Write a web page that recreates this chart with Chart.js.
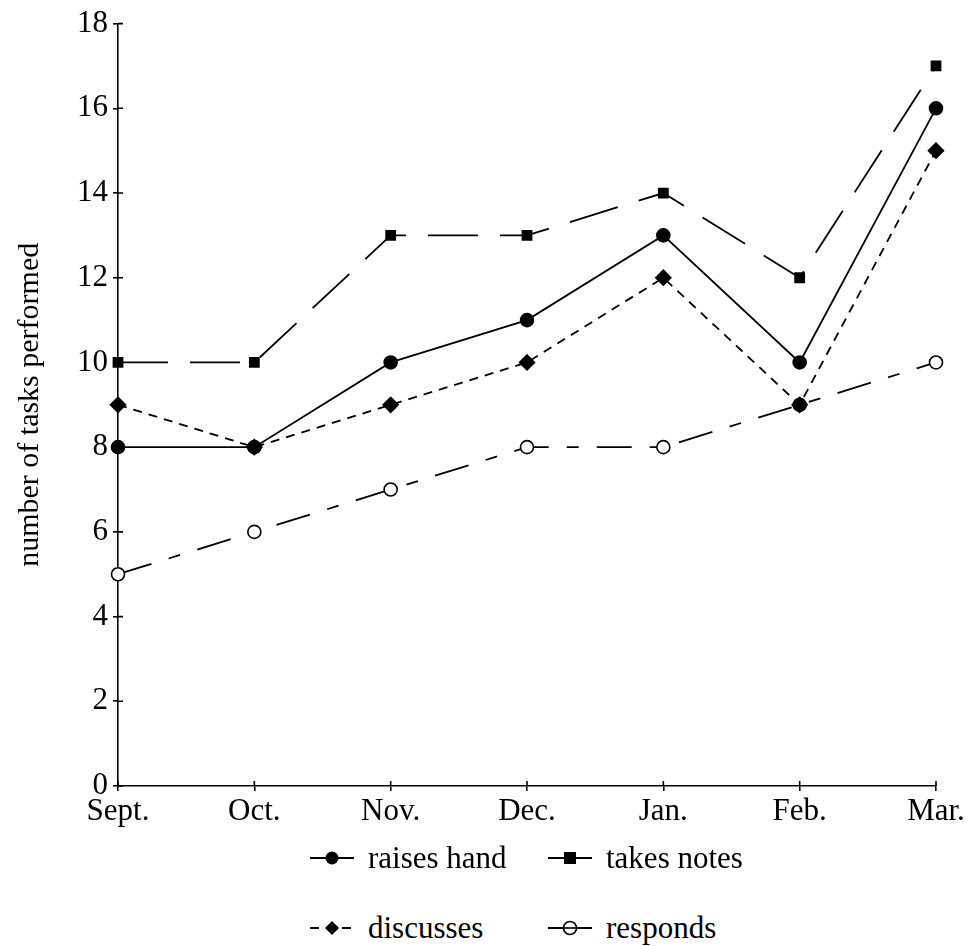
<!DOCTYPE html>
<html>
<head>
<meta charset="utf-8">
<script src="https://cdn.jsdelivr.net/npm/chart.js@4/dist/chart.umd.min.js"></script>
<style>
  body { margin: 0; background: #fff; }
  #wrap { position: relative; width: 970px; height: 946px; }
  #chart { position: absolute; left: 0; top: 0; }
  .leg { position: absolute; font: 31px "Liberation Serif", "Times New Roman", serif; color: #000;
         display: flex; align-items: center; height: 40px; line-height: 40px; }
  .leg svg { margin-right: 10px; }
</style>
</head>
<body>
<div id="wrap">
  <canvas id="chart" width="970" height="846"></canvas>
  <div class="leg" style="left:308px; top:838px;"><svg width="50" height="20"><line x1="2" y1="10" x2="46" y2="10" stroke="#000" stroke-width="1.8"/><circle cx="24" cy="10" r="6.5" fill="#000"/></svg>raises hand</div>
  <div class="leg" style="left:546px; top:838px;"><svg width="50" height="20"><line x1="2" y1="10" x2="46" y2="10" stroke="#000" stroke-width="1.8"/><rect x="18" y="4" width="12" height="12" fill="#000"/></svg>takes notes</div>
  <div class="leg" style="left:308px; top:908px;"><svg width="50" height="20"><line x1="2" y1="10" x2="46" y2="10" stroke="#000" stroke-width="1.8" stroke-dasharray="9 7"/><polygon points="24,3 31,10 24,17 17,10" fill="#000"/></svg>discusses</div>
  <div class="leg" style="left:546px; top:908px;"><svg width="50" height="20"><line x1="2" y1="10" x2="46" y2="10" stroke="#000" stroke-width="1.8"/><circle cx="24" cy="10" r="6.5" fill="#fff" stroke="#000" stroke-width="1.6"/><line x1="17" y1="10" x2="31" y2="10" stroke="#000" stroke-width="1.6"/></svg>responds</div>
</div>
<script>
// months on the x axis and the four behaviours tracked
const months = ["Sept.", "Oct.", "Nov.", "Dec.", "Jan.", "Feb.", "Mar."];
const raisesHand = [8, 8, 10, 11, 13, 10, 16];
const takesNotes = [10, 10, 13, 13, 14, 12, 17];
const discusses = [9, 8, 9, 10, 12, 9, 15];
const responds = [5, 6, 7, 8, 8, 9, 10];
const yTicks = [0, 2, 4, 6, 8, 10, 12, 14, 16, 18];

const FONT = { family: '"Liberation Serif", "Times New Roman", serif', size: 31 };

// draw the inner half of the tick marks so they cross the axis line
const crossTicks = {
  id: "crossTicks",
  afterDraw(chart) {
    const ctx = chart.ctx;
    const x = chart.scales.x, y = chart.scales.y;
    ctx.save();
    ctx.strokeStyle = "#000";
    ctx.lineWidth = 1.6;
    ctx.beginPath();
    yTicks.forEach(v => {
      const py = y.getPixelForValue(v);
      ctx.moveTo(x.left, py); ctx.lineTo(x.left + 5, py);
    });
    months.forEach((m, i) => {
      const px = x.getPixelForValue(i);
      ctx.moveTo(px, y.bottom); ctx.lineTo(px, y.bottom - 5);
    });
    ctx.stroke();
    ctx.restore();
  }
};

function series(label, data, dash, style, radius, fill) {
  return {
    label, data,
    borderColor: "#000", borderWidth: 1.8, borderDash: dash,
    pointStyle: style, pointRadius: radius,
    pointBackgroundColor: fill, pointBorderColor: "#000", pointBorderWidth: 1.6,
    tension: 0, fill: false
  };
}

new Chart(document.getElementById("chart"), {
  type: "line",
  data: {
    labels: months,
    datasets: [
      series("raises hand", raisesHand, [], "circle", 6.5, "#000"),
      series("takes notes", takesNotes, [50, 22], "rect", 6.5, "#000"),
      series("discusses", discusses, [9, 7], "rectRot", 7.5, "#000"),
      series("responds", responds, [35, 18, 12, 18], "circle", 6.5, "#fff")
    ]
  },
  options: {
    responsive: false,
    animation: false,
    layout: { padding: { top: 22, right: 34, left: 0, bottom: 0 } },
    plugins: { legend: { display: false }, tooltip: { enabled: false } },
    scales: {
      x: {
        offset: false,
        grid: { display: true, drawOnChartArea: false, tickLength: 5, color: "#000", lineWidth: 1.6 },
        border: { display: true, color: "#000", width: 1.6 },
        ticks: { color: "#000", font: FONT, padding: 2, maxRotation: 0, autoSkip: false },
        afterFit(s) { s.height = 60; }
      },
      y: {
        min: 0, max: 18,
        afterBuildTicks(s) { s.ticks = yTicks.map(v => ({ value: v })); },
        grid: { display: true, drawOnChartArea: false, tickLength: 5, color: "#000", lineWidth: 1.6 },
        border: { display: true, color: "#000", width: 1.6 },
        ticks: { color: "#000", font: FONT, padding: 5 },
        title: { display: true, text: "number of tasks performed", color: "#000", font: { ...FONT, size: 30, lineHeight: 1 }, padding: { top: 15, bottom: 0 } },
        afterFit(s) { s.width = 118; }
      }
    }
  },
  plugins: [crossTicks]
});
</script>
</body>
</html>
